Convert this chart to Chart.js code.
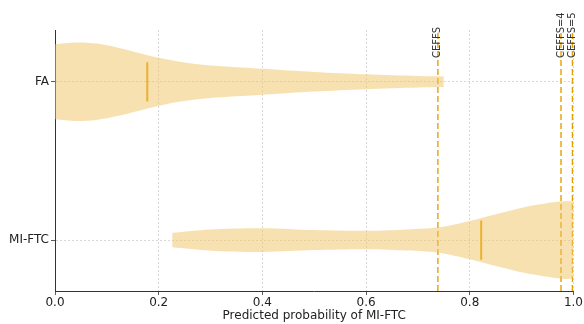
<!DOCTYPE html>
<html>
<head>
<meta charset="utf-8">
<script src="https://cdn.jsdelivr.net/npm/chart.js@4"></script>
<style>
  html, body { margin: 0; padding: 0; background: #fff; }
  #wrap { width: 584px; height: 324px; }
</style>
</head>
<body>
<div id="wrap"><canvas id="violin-chart"></canvas></div>
<script>
// categories and where they sit on the y scale
const categories = ['FA', 'MI-FTC'];
const categoryPos = [1, 0];

// violin outlines: x positions and half widths (category units)
const faX    = [0, 0.04, 0.08, 0.12, 0.16, 0.20, 0.24, 0.28, 0.32, 0.36, 0.40, 0.50, 0.60, 0.70, 0.75];
const faHalf = [0.237, 0.248, 0.241, 0.217, 0.184, 0.151, 0.126, 0.109, 0.098, 0.090, 0.082, 0.062, 0.047, 0.036, 0.033];

const miX    = [0.226, 0.30, 0.40, 0.50, 0.60, 0.67, 0.74, 0.80, 0.856, 0.907, 0.946, 0.977, 1.0];
const miHalf = [0.046, 0.067, 0.075, 0.063, 0.058, 0.065, 0.080, 0.121, 0.168, 0.209, 0.231, 0.245, 0.245];

const medians = [0.178, 0.822];
const medianHalf = 0.124;

const thresholds = [0.7385, 0.976, 0.998];
const thresholdLabels = ['CEFFS', 'CEFFS=4', 'CEFFS=5'];

const xTicks = [0, 0.2, 0.4, 0.6, 0.8, 1.0];

const Y_MIN = -0.322, Y_MAX = 1.327;
const FILL = 'rgba(240,195,100,0.5)';
const ORANGE = '#E69F00';

function outline(xs, hs, center, sign) {
    return xs.map((x, i) => ({ x: x, y: center + sign * hs[i] }));
}

const datasets = [];
[[faX, faHalf], [miX, miHalf]].forEach(function (v, i) {
    datasets.push({
        data: outline(v[0], v[1], categoryPos[i], 1),
        showLine: true, borderWidth: 0, pointRadius: 0, fill: false,
        backgroundColor: FILL, tension: 0.3
    });
    datasets.push({
        data: outline(v[0], v[1], categoryPos[i], -1),
        showLine: true, borderWidth: 0, pointRadius: 0, fill: '-1',
        backgroundColor: FILL, tension: 0.3
    });
});

// median marks
medians.forEach(function (m, i) {
    datasets.push({
        data: [{ x: m, y: categoryPos[i] - medianHalf }, { x: m, y: categoryPos[i] + medianHalf }],
        showLine: true, borderColor: ORANGE, borderWidth: 2, pointRadius: 0, fill: false
    });
});

// threshold lines
thresholds.forEach(function (t) {
    datasets.push({
        data: [{ x: t, y: Y_MIN }, { x: t, y: Y_MAX }],
        showLine: true, borderColor: ORANGE, borderWidth: 1.4, borderDash: [6, 3],
        pointRadius: 0, fill: false
    });
});

const thresholdText = {
    id: 'thresholdText',
    afterDatasetsDraw(chart) {
        const ctx = chart.ctx;
        const xs = chart.scales.x;
        ctx.save();
        ctx.font = '10px "DejaVu Sans"';
        ctx.fillStyle = '#333';
        ctx.textAlign = 'left';
        ctx.textBaseline = 'middle';
        thresholds.forEach(function (t, i) {
            ctx.save();
            ctx.translate(xs.getPixelForValue(t), 58);
            ctx.rotate(-Math.PI / 2);
            ctx.fillText(thresholdLabels[i], 0, 0);
            ctx.restore();
        });
        ctx.restore();
    }
};

new Chart(document.getElementById('violin-chart'), {
    type: 'scatter',
    data: { datasets: datasets },
    plugins: [thresholdText],
    options: {
        responsive: true,
        maintainAspectRatio: false,
        animation: false,
        layout: { padding: { top: 30, right: 9, left: 0, bottom: 0 } },
        plugins: { legend: { display: false }, tooltip: { enabled: false } },
        scales: {
            x: {
                type: 'linear', min: 0, max: 1,
                afterBuildTicks: s => { s.ticks = xTicks.map(v => ({ value: v })); },
                afterFit: s => { s.height = 33; },
                ticks: {
                    callback: v => v.toFixed(1),
                    color: '#222', font: { family: 'DejaVu Sans', size: 12 },
                    padding: 1, maxRotation: 0
                },
                grid: {
                    color: '#cfcfcf', lineWidth: 0.8,
                    tickColor: '#333', tickLength: 4
                },
                border: { display: true, color: '#333', width: 1, dash: [2, 2] },
                title: {
                    display: true, text: 'Predicted probability of MI-FTC',
                    color: '#222', font: { family: 'DejaVu Sans', size: 12 },
                    padding: { top: 0, bottom: 1 }
                }
            },
            y: {
                type: 'linear', min: Y_MIN, max: Y_MAX,
                afterBuildTicks: s => { s.ticks = categoryPos.map(v => ({ value: v })); },
                afterFit: s => { s.width = 55; },
                ticks: {
                    callback: v => categories[categoryPos.indexOf(v)],
                    color: '#222', font: { family: 'DejaVu Sans', size: 12 },
                    padding: 2
                },
                grid: {
                    color: '#cfcfcf', lineWidth: 0.8,
                    tickColor: '#333', tickLength: 4
                },
                border: { display: true, color: '#333', width: 1, dash: [2, 2] }
            }
        }
    }
});
</script>
</body>
</html>
